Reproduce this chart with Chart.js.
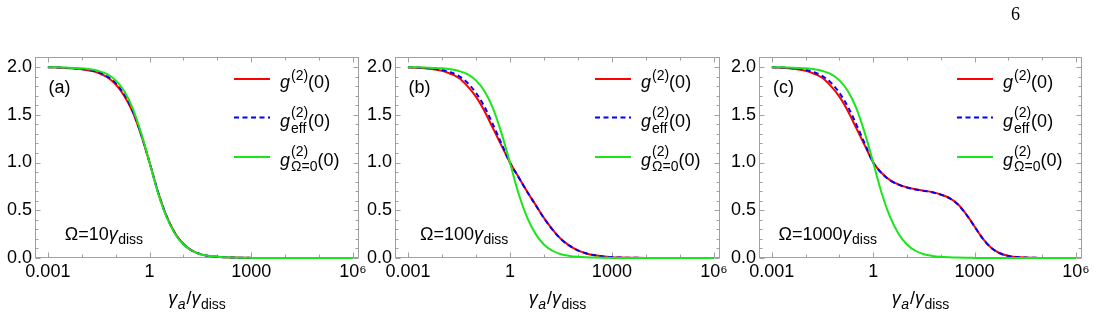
<!DOCTYPE html>
<html><head><meta charset="utf-8">
<script src="https://cdn.jsdelivr.net/npm/chart.js@4.4.1/dist/chart.umd.min.js"></script>
<style>
html,body{margin:0;padding:0;background:#fff;}
#wrap{position:relative;width:1096px;height:316px;overflow:hidden;background:#fff;}
#wrap canvas{position:absolute;left:0;top:0;}
#page{position:absolute;left:1011px;top:5px;font-size:18px;line-height:18px;font-family:"Liberation Serif","DejaVu Serif",serif;color:#000;}
</style></head><body>
<div id="wrap">
<canvas id="ca" width="1096" height="316"></canvas>
<canvas id="cb" width="1096" height="316"></canvas>
<canvas id="cc" width="1096" height="316"></canvas>
<div id="page">6</div>
</div>
<script>
// ---- data (x = gamma_a / gamma_diss) ----
const xValues = [0.001, 0.00178, 0.00316, 0.00562, 0.01, 0.0178, 0.0316, 0.0562, 0.1, 0.178, 0.316, 0.562,
  1, 1.78, 3.16, 5.62, 10, 17.8, 31.6, 56.2, 100, 178, 316, 562, 1000, 1780, 3160, 5620,
  1e4, 1.78e4, 3.16e4, 5.62e4, 1e5, 1.78e5, 3.16e5, 5.62e5, 1e6];

const gOmega0 = [1.998, 1.997, 1.995, 1.991, 1.986, 1.976, 1.958, 1.925, 1.860, 1.750, 1.570, 1.310,
  1.000, 0.680, 0.430, 0.255, 0.142, 0.076, 0.040, 0.022, 0.012, 0.007, 0.004, 0.002, 0.0012, 0.0007, 0.0004, 0.0002,
  0.0001, 0.0001, 0, 0, 0, 0, 0, 0, 0];

const gA = [1.997, 1.995, 1.991, 1.985, 1.977, 1.962, 1.938, 1.893, 1.820, 1.700, 1.530, 1.290,
  1.000, 0.690, 0.440, 0.262, 0.146, 0.078, 0.041, 0.022, 0.012, 0.007, 0.004, 0.002, 0.0012, 0.0007, 0.0004, 0.0002,
  0.0001, 0.0001, 0, 0, 0, 0, 0, 0, 0];
const gEffA = [1.997, 1.996, 1.993, 1.987, 1.980, 1.967, 1.945, 1.903, 1.832, 1.715, 1.542, 1.297,
  1.000, 0.688, 0.438, 0.260, 0.145, 0.078, 0.041, 0.022, 0.012, 0.007, 0.004, 0.002, 0.0012, 0.0007, 0.0004, 0.0002,
  0.0001, 0.0001, 0, 0, 0, 0, 0, 0, 0];

const gB = [1.996, 1.993, 1.987, 1.977, 1.960, 1.930, 1.885, 1.800, 1.690, 1.540, 1.360, 1.180,
  1.000, 0.850, 0.700, 0.560, 0.420, 0.300, 0.200, 0.130, 0.080, 0.048, 0.028, 0.016, 0.009, 0.005, 0.003, 0.0016,
  0.0009, 0.0005, 0.0003, 0.0002, 0.0001, 0, 0, 0, 0];
const gEffB = [1.997, 1.995, 1.990, 1.982, 1.968, 1.945, 1.905, 1.835, 1.730, 1.585, 1.400, 1.200,
  1.000, 0.848, 0.698, 0.558, 0.418, 0.298, 0.199, 0.129, 0.080, 0.048, 0.028, 0.016, 0.009, 0.005, 0.003, 0.0016,
  0.0009, 0.0005, 0.0003, 0.0002, 0.0001, 0, 0, 0, 0];

const gC = [1.996, 1.993, 1.987, 1.977, 1.960, 1.930, 1.885, 1.800, 1.690, 1.540, 1.360, 1.180,
  1.000, 0.890, 0.815, 0.770, 0.740, 0.720, 0.705, 0.690, 0.665, 0.630, 0.565, 0.460, 0.330, 0.200, 0.105, 0.050,
  0.022, 0.010, 0.004, 0.002, 0.001, 0.0005, 0.0002, 0.0001, 0];
const gEffC = [1.997, 1.995, 1.990, 1.982, 1.968, 1.945, 1.905, 1.835, 1.730, 1.585, 1.400, 1.200,
  1.000, 0.888, 0.813, 0.768, 0.738, 0.718, 0.703, 0.688, 0.663, 0.628, 0.563, 0.458, 0.329, 0.199, 0.105, 0.050,
  0.022, 0.010, 0.004, 0.002, 0.001, 0.0005, 0.0002, 0.0001, 0];

// ---- ticks / labels ----
const xTickValues = [0.001, 1, 1000, 1e6];
const xTickLabels = ['0.001', '1', '1000', '10\u2076'];
const xMinorTicks = [0.01, 0.1, 10, 100, 1e4, 1e5];
const yTickValues = [0, 0.5, 1, 1.5, 2];
const yTickLabels = ['0.0', '0.5', '1.0', '1.5', '2.0'];
const yMinorTicks = [0.1, 0.2, 0.3, 0.4, 0.6, 0.7, 0.8, 0.9, 1.1, 1.2, 1.3, 1.4, 1.6, 1.7, 1.8, 1.9];
const panelLabels = ['(a)', '(b)', '(c)'];
const omegaValues = ['10', '100', '1000'];

// ---- styling ----
const FONT = '"Liberation Sans", Arial, Helvetica, sans-serif';
const BIG = 18, SMALL = 14;
const RED = '#ff0000', BLUE = '#0000ff', GREEN = '#19e619', FRAME = '#a0a0a0';
const XMIN = Math.pow(10, -3.38), XMAX = Math.pow(10, 6.18), YMAX = 2.105;
const FT = 57, FB = 258, YW = 35, XH = 50;

function fnt(size, italic) { return (italic ? 'italic ' : '') + size + 'px ' + FONT; }
function partWidth(ctx, p) {
  if (p.sup !== undefined || p.sub !== undefined) {
    let w = 0;
    if (p.sup) { ctx.font = fnt(SMALL, false); w = Math.max(w, ctx.measureText(p.sup).width); }
    if (p.sub) { ctx.font = fnt(SMALL, !!p.subItalic); w = Math.max(w, ctx.measureText(p.sub).width); }
    return w;
  }
  ctx.font = fnt(p.size || BIG, !!p.italic);
  return ctx.measureText(p.t).width;
}
function drawRich(ctx, parts, x, y, align) {
  ctx.save();
  ctx.textBaseline = 'alphabetic'; ctx.textAlign = 'left'; ctx.fillStyle = '#000';
  const ws = parts.map(p => partWidth(ctx, p) + (p.gap || 0));
  const total = ws.reduce((a, b) => a + b, 0);
  let cx = align === 'center' ? x - total / 2 : x;
  parts.forEach((p, i) => {
    if (p.sup !== undefined || p.sub !== undefined) {
      if (p.sup) { ctx.font = fnt(SMALL, false); ctx.fillText(p.sup, cx, y - (p.up || 9)); }
      if (p.sub) { ctx.font = fnt(SMALL, !!p.subItalic); ctx.fillText(p.sub, cx, y + (p.down || 5)); }
    } else {
      ctx.font = fnt(p.size || BIG, !!p.italic);
      ctx.fillText(p.t, cx, y);
    }
    cx += ws[i];
  });
  ctx.restore();
}

const legendRows = [
  {color: RED, dash: [], parts: [{t: 'g', italic: true, gap: 1}, {sup: '(2)', up: 8}, {t: '(0)'}]},
  {color: BLUE, dash: [5, 3.5], parts: [{t: 'g', italic: true, gap: 1}, {sup: '(2)', sub: 'eff', up: 10, down: 6}, {t: '(0)'}]},
  {color: GREEN, dash: [], parts: [{t: 'g', italic: true, gap: 1}, {sup: '(2)', sub: '\u03A9=0', up: 10, down: 5}, {t: '(0)'}]}
];

const framePlugin = {
  id: 'frame',
  beforeDatasetsDraw(chart) {
    const {ctx, chartArea: a} = chart;
    const xs = chart.scales.x, ys = chart.scales.y;
    ctx.save();
    ctx.strokeStyle = FRAME; ctx.lineWidth = 1;
    ctx.strokeRect(Math.round(a.left) + 0.5, Math.round(a.top) + 0.5, Math.round(a.right - a.left) - 1, Math.round(a.bottom - a.top) - 1);
    ctx.beginPath();
    const L = Math.round(a.left) + 0.5, R = Math.round(a.right) - 0.5, T = Math.round(a.top) + 0.5, B = Math.round(a.bottom) - 0.5;
    const tx = (vals, len) => vals.forEach(v => {
      const px = Math.round(xs.getPixelForValue(v)) + 0.5;
      ctx.moveTo(px, B); ctx.lineTo(px, B - len); ctx.moveTo(px, T); ctx.lineTo(px, T + len);
    });
    const ty = (vals, len) => vals.forEach(v => {
      const py = Math.round(ys.getPixelForValue(v)) + 0.5;
      ctx.moveTo(L, py); ctx.lineTo(L + len, py); ctx.moveTo(R, py); ctx.lineTo(R - len, py);
    });
    tx(xTickValues, 5); tx(xMinorTicks, 3); ty(yTickValues, 5); ty(yMinorTicks, 3);
    ctx.stroke();
    ctx.restore();
  },
  afterDraw(chart, args, opts) {
    const {ctx, chartArea: a} = chart;
    const xs = chart.scales.x, ys = chart.scales.y;
    // legend
    const rowY = [a.top + 22, a.top + 60.5, a.top + 100];
    legendRows.forEach((r, i) => {
      ctx.save();
      ctx.strokeStyle = r.color; ctx.lineWidth = 2; ctx.setLineDash(r.dash);
      ctx.beginPath(); ctx.moveTo(a.right - 125, rowY[i]); ctx.lineTo(a.right - 89, rowY[i]); ctx.stroke();
      ctx.restore();
      drawRich(ctx, r.parts, a.right - 79, rowY[i] + 9, 'left');
    });
    // panel label
    ctx.save();
    ctx.font = fnt(BIG, false); ctx.fillStyle = '#000'; ctx.textAlign = 'center'; ctx.textBaseline = 'middle';
    ctx.fillText(opts.label, xs.getPixelForValue(0.0022), ys.getPixelForValue(1.78));
    ctx.restore();
    // Omega annotation
    drawRich(ctx, [{t: '\u03A9=' + opts.omega}, {t: '\u03B3', italic: true, gap: 0.5}, {sub: 'diss', down: 4}],
      xs.getPixelForValue(0.045), ys.getPixelForValue(0.19), 'center');
    // x-axis title
    drawRich(ctx, [{t: '\u03B3', italic: true, gap: 0.5}, {sub: 'a', subItalic: true, down: 5, gap: 1}, {t: '/'},
      {t: '\u03B3', italic: true, gap: 0.5}, {sub: 'diss', down: 5}], (a.left + a.right) / 2, 304, 'center');
  }
};

function pts(arr) { return xValues.map((x, i) => ({x: x, y: arr[i]})); }

function makePanel(id, frameLeft, frameRight, red, blue, idx) {
  const common = {pointRadius: 0, borderWidth: 2, fill: false, cubicInterpolationMode: 'monotone', clip: false};
  new Chart(document.getElementById(id), {
    type: 'line',
    data: {datasets: [
      Object.assign({label: 'g(2)(0)', data: pts(red), borderColor: RED, order: 3}, common),
      Object.assign({label: 'g(2)eff(0)', data: pts(blue), borderColor: BLUE, borderDash: [5, 3.5], order: 2}, common),
      Object.assign({label: 'g(2)Ω=0(0)', data: pts(gOmega0), borderColor: GREEN, order: 1}, common)
    ]},
    options: {
      responsive: false, animation: false, devicePixelRatio: 1,
      layout: {padding: {left: frameLeft - YW, right: 1096 - frameRight, top: FT, bottom: 316 - FB - XH}},
      plugins: {legend: {display: false}, tooltip: {enabled: false}, frame: {label: panelLabels[idx], omega: omegaValues[idx]}},
      scales: {
        x: {
          type: 'logarithmic', min: XMIN, max: XMAX,
          grid: {display: false, drawTicks: false}, border: {display: false},
          afterBuildTicks: s => { s.ticks = xTickValues.map(v => ({value: v, major: false})); },
          ticks: {autoSkip: false, maxRotation: 0, minRotation: 0, padding: 3, color: '#000', font: {family: FONT, size: BIG},
            callback: v => { const k = xTickValues.indexOf(v); return k >= 0 ? xTickLabels[k] : ''; }},
          afterFit: s => { s.height = XH; s.paddingLeft = 0; s.paddingRight = 0; }
        },
        y: {
          type: 'linear', min: 0, max: YMAX,
          grid: {display: false, drawTicks: false}, border: {display: false},
          afterBuildTicks: s => { s.ticks = yTickValues.map(v => ({value: v})); },
          ticks: {autoSkip: false, padding: 3, color: '#000', font: {family: FONT, size: BIG},
            callback: v => { const k = yTickValues.indexOf(v); return k >= 0 ? yTickLabels[k] : ''; }},
          afterFit: s => { s.width = YW; s.paddingTop = 0; s.paddingBottom = 0; }
        }
      }
    },
    plugins: [framePlugin]
  });
}

makePanel('ca', 35, 359, gA, gEffA, 0);
makePanel('cb', 395, 720, gB, gEffB, 1);
makePanel('cc', 759, 1082, gC, gEffC, 2);
</script>
</body></html>
